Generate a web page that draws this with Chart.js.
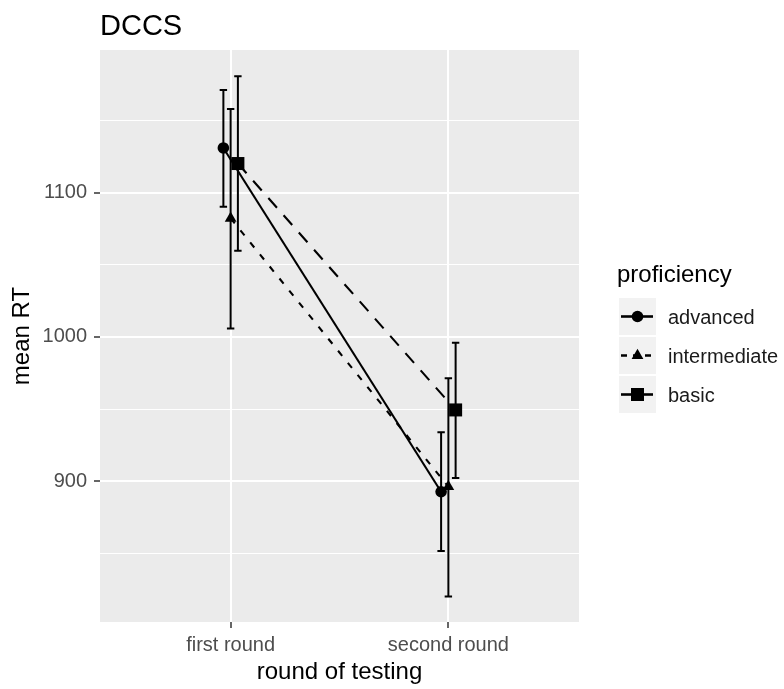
<!DOCTYPE html>
<html>
<head>
<meta charset="utf-8">
<title>DCCS</title>
<script src="https://cdn.jsdelivr.net/npm/chart.js@4/dist/chart.umd.min.js"></script>
<style>
  html, body { margin: 0; padding: 0; background: #fff; }
  #wrap { width: 784px; height: 689px; }
</style>
</head>
<body>
<div id="wrap"><canvas id="rtChart" width="784" height="689"></canvas></div>
<script>
// rounds of testing (x categories)
const rounds = ["first round", "second round"];
const groups = ["advanced", "intermediate", "basic"];

// mean RT per round, with lower / upper error bar ends
const advancedMean = [1131.0, 892.7];
const advancedLow = [1090.2, 851.7];
const advancedHigh = [1171.2, 934.0];

const intermediateMean = [1082.2, 896.2];
const intermediateLow = [1005.8, 820.1];
const intermediateHigh = [1158.0, 971.4];

const basicMean = [1120.2, 949.4];
const basicLow = [1059.8, 902.2];
const basicHigh = [1180.7, 995.9];

// y grid lines (only the hundreds get a label)
const yGrid = [850, 900, 950, 1000, 1050, 1100, 1150];
const yLabelled = [900, 1000, 1100];

// small horizontal dodge so the three groups don't overlap
const dodge = [-1 / 30, 0, 1 / 30];
const capHalf = 0.017;

const lineStyles = [
    { dash: [], point: "circle", radius: 5.8 },
    { dash: [6.5, 9], point: "triangle", radius: 6.8 },
    { dash: [13, 10], point: "rect", radius: 9.2 }
];

const means = [advancedMean, intermediateMean, basicMean];
const lows = [advancedLow, intermediateLow, basicLow];
const highs = [advancedHigh, intermediateHigh, basicHigh];

const FONT = "'Liberation Sans', Arial, sans-serif";

function points(g) {
    return means[g].map((v, i) => ({ x: i + 1 + dodge[g], y: v }));
}

const datasets = groups.map((name, g) => ({
    label: name,
    data: points(g),
    borderColor: "#000",
    backgroundColor: "#000",
    borderWidth: 2.1,
    borderDash: lineStyles[g].dash,
    borderCapStyle: "butt",
    pointStyle: lineStyles[g].point,
    pointRadius: lineStyles[g].radius,
    pointBorderWidth: 0,
    pointBackgroundColor: "#000",
    tension: 0,
    fill: false
}));

// grey panel + white page background
const panelPlugin = {
    id: "panel",
    beforeDraw(chart) {
        const { ctx, chartArea: a } = chart;
        ctx.save();
        ctx.fillStyle = "#fff";
        ctx.fillRect(0, 0, chart.width, chart.height);
        ctx.fillStyle = "#EBEBEB";
        ctx.fillRect(a.left, a.top, a.right - a.left, a.bottom - a.top);
        ctx.restore();
    }
};

// vertical error bars with caps, under the lines and points
const errorBarPlugin = {
    id: "errorBars",
    beforeDatasetsDraw(chart) {
        const { ctx, scales: { x, y } } = chart;
        ctx.save();
        ctx.strokeStyle = "#000";
        ctx.lineWidth = 2;
        ctx.setLineDash([]);
        for (let g = 0; g < groups.length; g++) {
            for (let i = 0; i < rounds.length; i++) {
                const cx = i + 1 + dodge[g];
                const px = x.getPixelForValue(cx);
                const x0 = x.getPixelForValue(cx - capHalf);
                const x1 = x.getPixelForValue(cx + capHalf);
                const yLo = y.getPixelForValue(lows[g][i]);
                const yHi = y.getPixelForValue(highs[g][i]);
                ctx.beginPath();
                ctx.moveTo(px, yLo); ctx.lineTo(px, yHi);
                ctx.moveTo(x0, yLo); ctx.lineTo(x1, yLo);
                ctx.moveTo(x0, yHi); ctx.lineTo(x1, yHi);
                ctx.stroke();
            }
        }
        ctx.restore();
    }
};

function drawGlyph(ctx, kind, cx, cy, r) {
    ctx.beginPath();
    if (kind === "circle") {
        ctx.arc(cx, cy, r, 0, Math.PI * 2);
    } else if (kind === "triangle") {
        ctx.moveTo(cx, cy - r);
        ctx.lineTo(cx + r * Math.sqrt(3) / 2, cy + r / 2);
        ctx.lineTo(cx - r * Math.sqrt(3) / 2, cy + r / 2);
        ctx.closePath();
    } else {
        const s = r * Math.SQRT1_2;
        ctx.rect(cx - s, cy - s, 2 * s, 2 * s);
    }
    ctx.fill();
}

// plot title and the proficiency legend on the right
const decorPlugin = {
    id: "decor",
    afterDraw(chart) {
        const { ctx, chartArea: a } = chart;
        ctx.save();
        ctx.fillStyle = "#000";
        ctx.textBaseline = "alphabetic";
        ctx.font = "29px " + FONT;
        ctx.fillText("DCCS", a.left, 35);

        const keyX = 619, keyW = 37, keyH = 37, top = 298, step = 39;
        ctx.font = "24px " + FONT;
        ctx.fillText("proficiency", 617, 282);
        ctx.font = "20px " + FONT;
        groups.forEach((name, g) => {
            const ky = top + g * step;
            const cy = ky + keyH / 2;
            ctx.fillStyle = "#F2F2F2";
            ctx.fillRect(keyX, ky, keyW, keyH);
            ctx.strokeStyle = "#000";
            ctx.lineWidth = 2.6;
            ctx.setLineDash(g === 1 ? [6, 6] : []);
            ctx.beginPath();
            ctx.moveTo(keyX + 2, cy);
            ctx.lineTo(keyX + keyW - 3, cy);
            ctx.stroke();
            ctx.setLineDash([]);
            ctx.fillStyle = "#000";
            drawGlyph(ctx, lineStyles[g].point, keyX + keyW / 2, cy, lineStyles[g].radius);
            ctx.fillStyle = "#1A1A1A";
            ctx.textBaseline = "middle";
            ctx.fillText(name, 668, cy + 2);
        });
        ctx.restore();
    }
};

const ctx = document.getElementById("rtChart").getContext("2d");
const rtChart = new Chart(ctx, {
    type: "line",
    data: { datasets: datasets },
    options: {
        responsive: false,
        animation: false,
        devicePixelRatio: 1,
        layout: { padding: { top: 50, right: 205, left: 0, bottom: 0 } },
        plugins: {
            legend: { display: false },
            tooltip: { enabled: false },
            title: { display: false }
        },
        scales: {
            x: {
                type: "linear",
                min: 0.4,
                max: 2.6,
                afterBuildTicks: function(scale) {
                    scale.ticks = rounds.map((r, i) => ({ value: i + 1 }));
                },
                afterFit: function(scale) { scale.height = 67; },
                ticks: {
                    padding: 5,
                    color: "#4D4D4D",
                    font: { family: FONT, size: 20 },
                    callback: function(value) { return rounds[value - 1]; }
                },
                grid: {
                    color: "#fff",
                    lineWidth: 2,
                    tickLength: 6,
                    tickColor: "#333",
                    tickWidth: 1.5
                },
                border: { display: false },
                title: {
                    display: true,
                    text: "round of testing",
                    color: "#000",
                    font: { family: FONT, size: 24 },
                    padding: { top: 0, bottom: 2 }
                }
            },
            y: {
                type: "linear",
                min: 802.4,
                max: 1198.9,
                afterBuildTicks: function(scale) {
                    scale.ticks = yGrid.map(v => ({ value: v }));
                },
                afterFit: function(scale) { scale.width = 100; },
                ticks: {
                    padding: 7,
                    color: "#4D4D4D",
                    font: { family: FONT, size: 20 },
                    callback: function(value) {
                        return yLabelled.includes(value) ? String(value) : "";
                    }
                },
                grid: {
                    color: "#fff",
                    lineWidth: c => yLabelled.includes(c.tick.value) ? 2 : 1,
                    tickLength: 6,
                    tickColor: c => yLabelled.includes(c.tick.value) ? "#333" : "rgba(0,0,0,0)",
                    tickWidth: 1.5
                },
                border: { display: false },
                title: {
                    display: true,
                    text: "mean RT",
                    color: "#000",
                    font: { family: FONT, size: 24 },
                    padding: { top: 8, bottom: 0 }
                }
            }
        }
    },
    plugins: [panelPlugin, errorBarPlugin, decorPlugin]
});
</script>
</body>
</html>
